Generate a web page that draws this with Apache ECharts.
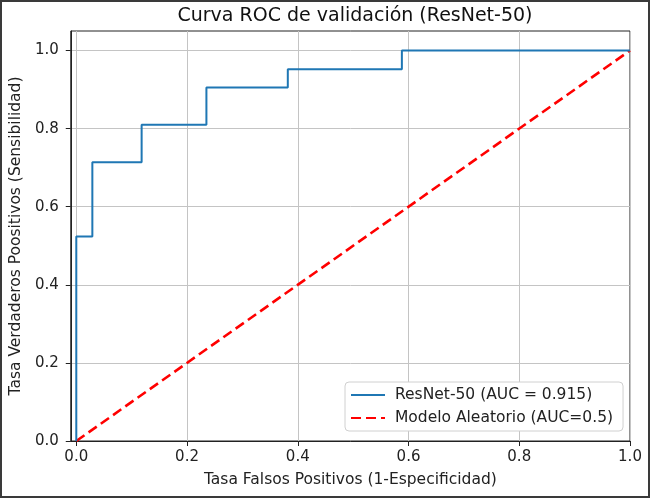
<!DOCTYPE html>
<html>
<head>
<meta charset="utf-8">
<script src="https://cdn.jsdelivr.net/npm/echarts@6/dist/echarts.min.js"></script>
<style>
html,body{margin:0;padding:0;background:#fff;}
#wrap{position:relative;width:650px;height:498px;}
#main{width:650px;height:498px;}
#frame{position:absolute;left:0;top:0;width:650px;height:498px;box-sizing:border-box;border:2px solid #3a3a3a;pointer-events:none;}
</style>
</head>
<body>
<div id="wrap"><div id="main"></div><div id="frame"></div></div>
<script>
// ROC curve points (FPR, TPR)
const fpr = [0, 0, 0.029, 0.029, 0.118, 0.118, 0.235, 0.235, 0.382, 0.382, 0.588, 0.588, 1.0];
const tpr = [0, 0.524, 0.524, 0.714, 0.714, 0.810, 0.810, 0.905, 0.905, 0.952, 0.952, 1.0, 1.0];
const randX = [0, 1];
const randY = [0, 1];
const xTicks = [0, 0.2, 0.4, 0.6, 0.8, 1.0];
const yTicks = [0, 0.2, 0.4, 0.6, 0.8, 1.0];
const titleText = 'Curva ROC de validación (ResNet-50)';
const xName = 'Tasa Falsos Positivos (1-Especificidad)';
const yName = 'Tasa Verdaderos Poositivos (Sensibilidad)';
const seriesNames = ['ResNet-50 (AUC = 0.915)', 'Modelo Aleatorio (AUC=0.5)'];

const FONT = 'DejaVu Sans';
const chart = echarts.init(document.getElementById('main'), null, {renderer: 'canvas'});
const axisCommon = {
  type: 'value',
  axisLine: {show: true, onZero: false, lineStyle: {color: '#222', width: 1}},
  axisTick: {show: true, length: 5, inside: false, lineStyle: {color: '#222'}},
  axisLabel: {color: '#222', fontFamily: FONT, fontSize: 15, formatter: v => v.toFixed(1)},
  splitLine: {show: true, lineStyle: {color: '#c4c4c4', width: 1}},
  nameLocation: 'middle',
  nameTextStyle: {color: '#222', fontFamily: FONT, fontSize: 15.5}
};
const option = {
  animation: false,
  backgroundColor: '#fff',
  title: {
    text: titleText, left: 350, top: 2, textAlign: 'center',
    textStyle: {fontFamily: FONT, fontSize: 19, fontWeight: 'normal', color: '#111'}
  },
  grid: {left: 70, right: 20, top: 31, bottom: 57, show: true, borderColor: '#222', borderWidth: 1, backgroundColor: 'transparent'},
  xAxis: Object.assign({}, axisCommon, {
    min: -0.01, max: 1.0, name: xName, nameGap: 31,
    axisTick: Object.assign({}, axisCommon.axisTick, {customValues: xTicks}),
    axisLabel: Object.assign({}, axisCommon.axisLabel, {customValues: xTicks, margin: 9})
  }),
  yAxis: Object.assign({}, axisCommon, {
    min: 0, max: 1.05, name: yName, nameGap: 42,
    axisTick: Object.assign({}, axisCommon.axisTick, {customValues: yTicks}),
    axisLabel: Object.assign({}, axisCommon.axisLabel, {customValues: yTicks, margin: 12})
  }),
  legend: {
    orient: 'vertical', left: 345, top: 382,
    padding: [5, 10, 5, 5], itemGap: 7, itemWidth: 34, itemHeight: 16,
    backgroundColor: '#fff', borderColor: '#d0d0d0', borderWidth: 1, borderRadius: 4,
    textStyle: {fontFamily: FONT, fontSize: 15.5, color: '#222', padding: [0, 0, 0, 5]},
    itemStyle: {opacity: 0},
    data: seriesNames
  },
  series: [
    {
      name: seriesNames[0], type: 'line', symbol: 'none',
      data: fpr.map((x, i) => [x, tpr[i]]),
      lineStyle: {color: '#1f77b4', width: 2}, itemStyle: {color: '#1f77b4'}, z: 3
    },
    {
      name: seriesNames[1], type: 'line', symbol: 'none',
      data: randX.map((x, i) => [x, randY[i]]),
      lineStyle: {color: '#ff0000', width: 2.6, type: [10, 5]}, itemStyle: {color: '#ff0000'}, z: 2
    }
  ]
};
chart.setOption(option);
</script>
</body>
</html>
